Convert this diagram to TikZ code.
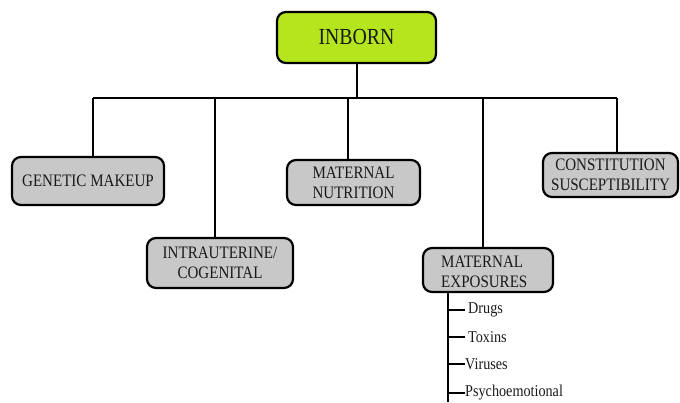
\documentclass[tikz,border=0pt]{standalone}
\usepackage{fontspec}
\setmainfont{Liberation Serif}
\newfontfamily\condserif[FakeStretch=0.86]{Liberation Serif}
\begin{document}
\begin{tikzpicture}[x=1pt,y=-1pt,
  box/.style={draw=black,line width=2.2pt,rounded corners=9pt,fill=boxgray,
    inner sep=0pt,align=center,font=\condserif\fontsize{17.5}{20}\selectfont,text=black!90},
  conn/.style={draw=black,line width=2pt},
  item/.style={anchor=west,inner sep=0pt,font=\condserif\fontsize{16.5}{16}\selectfont,text=black!90}]
\definecolor{boxgray}{RGB}{200,200,200}
\definecolor{lime}{RGB}{181,230,29}
\useasboundingbox (0,0) rectangle (680,403);
% boxes
\node[box,fill=lime,minimum width=159pt,minimum height=51pt,font=\condserif\fontsize{23}{24}\selectfont] (inborn) at (356.5,37.5) {INBORN};
\node[box,minimum width=152pt,minimum height=48pt] (gen) at (88,181) {GENETIC MAKEUP};
\node[box,minimum width=146pt,minimum height=50pt] (intra) at (220,263) {INTRAUTERINE/\\COGENITAL};
\node[box,minimum width=133pt,minimum height=45pt] (nutr) at (353.5,182.5) {MATERNAL\\NUTRITION};
\node[box,minimum width=135pt,minimum height=44pt] (cons) at (610.5,175) {CONSTITUTION\\SUSCEPTIBILITY};
\node[box,minimum width=130pt,minimum height=44pt] (mexp) at (488,270) {};
\node[inner sep=0pt,align=left,font=\condserif\fontsize{17.5}{20}\selectfont,text=black!90,anchor=west] (mexpt) at (441,272) {MATERNAL\\EXPOSURES};
% tree
\coordinate (bar) at (0,98);
\draw[conn] (inborn.south) -- (inborn.south |- bar);
\draw[conn] ([xshift=5pt]gen.north |- bar) -- ([xshift=6.5pt]cons.north |- bar);
\draw[conn] ([xshift=5pt]gen.north |- bar) -- ([xshift=5pt]gen.north);
\draw[conn] ([xshift=-5pt]intra.north |- bar) -- ([xshift=-5pt]intra.north);
\draw[conn] ([xshift=-5.5pt]nutr.north |- bar) -- ([xshift=-5.5pt]nutr.north);
\draw[conn] ([xshift=-5pt]mexp.north |- bar) -- ([xshift=-5pt]mexp.north);
\draw[conn] ([xshift=6.5pt]cons.north |- bar) -- ([xshift=6.5pt]cons.north);
% sub list
\node[item] (drugs) at (468,310) {Drugs};
\node[item] (toxins) at (468,337) {Toxins};
\node[item] (viruses) at (465,364) {Viruses};
\node[item] (psycho) at (465,393) {Psychoemotional};
\coordinate (spinetop) at (448,292);
\coordinate (spinebot) at (448,402);
\draw[conn] (spinetop) -- (spinebot);
\draw[conn] (spinetop |- drugs.west) -- ([xshift=-3pt]drugs.west);
\draw[conn] (spinetop |- toxins.west) -- ([xshift=-3pt]toxins.west);
\draw[conn] (spinetop |- viruses.west) -- (viruses.west);
\draw[conn] (spinetop |- psycho.west) -- (psycho.west);
\end{tikzpicture}
\end{document}
